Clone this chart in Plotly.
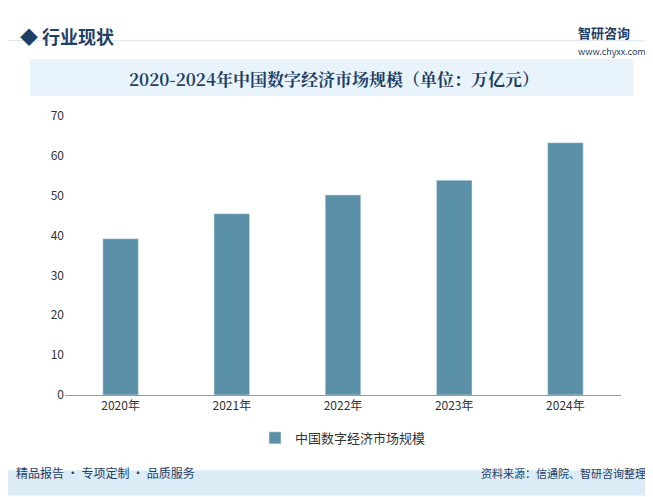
import plotly.graph_objects as go

years = ["2020年", "2021年", "2022年", "2023年", "2024年"]
values = [39.2, 45.5, 50.2, 53.9, 63.3]
series_name = "中国数字经济市场规模"
title = "2020-2024年中国数字经济市场规模（单位：万亿元）"

fig = go.Figure(go.Bar(x=years, y=values, name=series_name, marker_color="#5b91a8", width=0.32))
W, H = 653, 497
PW = W - 57 - 40
fig.update_layout(
    width=W, height=H, paper_bgcolor="white", plot_bgcolor="white",
    margin=dict(l=57, r=40, t=108, b=110),
    font=dict(family="Noto Sans CJK SC", size=12, color="#333"),
    showlegend=True,
    legend=dict(orientation="h", x=0.5, xanchor="center", y=-0.10, yanchor="top", font=dict(size=13)),
    yaxis=dict(range=[0, 70], dtick=10, showgrid=False, zeroline=False, showline=False, ticks="",
               tickfont=dict(size=12, color="#333")),
    xaxis=dict(showline=True, linecolor="#999", ticks="", tickfont=dict(size=12, color="#333")),
    bargap=0.6,
)
L = -57/PW
R = 1 + 40/PW
fig.add_shape(type="rect", xref="paper", yref="paper", x0=(22-57)/PW, x1=(625-57)/PW, y0=1.072, y1=1.204,
              fillcolor="#e8f3fb", line_width=0)
fig.add_shape(type="rect", xref="paper", yref="paper", x0=L, x1=R, y0=-0.27, y1=-0.36,
              fillcolor="#dcecf7", line_width=0)
fig.add_shape(type="line", xref="paper", yref="paper", x0=L, x1=R, y0=1.27, y1=1.27,
              line=dict(color="#dce6ee", width=1))
fig.add_annotation(text="<b>"+title+"</b>", xref="paper", yref="paper", x=(326-57)/PW, y=1.185, showarrow=False,
                   font=dict(size=17, color="#1f3f66", family="Noto Serif CJK SC, Noto Sans CJK SC"))
fig.add_annotation(text="◆ <b>行业现状</b>", xref="paper", yref="paper", x=(10-57)/PW, y=1.34, xanchor="left",
                   showarrow=False, font=dict(size=18, color="#1f3f66"))
fig.add_annotation(text="<b>智研咨询</b><br><span style='font-size:9px'>www.chyxx.com</span>", xref="paper", yref="paper",
                   x=(640-57)/PW, y=1.34, xanchor="right", showarrow=False, font=dict(size=13, color="#1f3f66"), align="left")
fig.add_annotation(text="精品报告 · 专项定制 · 品质服务", xref="paper", yref="paper", x=(6-57)/PW, y=-0.315,
                   xanchor="left", showarrow=False, font=dict(size=12, color="#1f3f66"))
fig.add_annotation(text="资料来源：信通院、智研咨询整理", xref="paper", yref="paper", x=(640-57)/PW, y=-0.315,
                   xanchor="right", showarrow=False, font=dict(size=11, color="#1f3f66"))
fig.write_html("out.html")
